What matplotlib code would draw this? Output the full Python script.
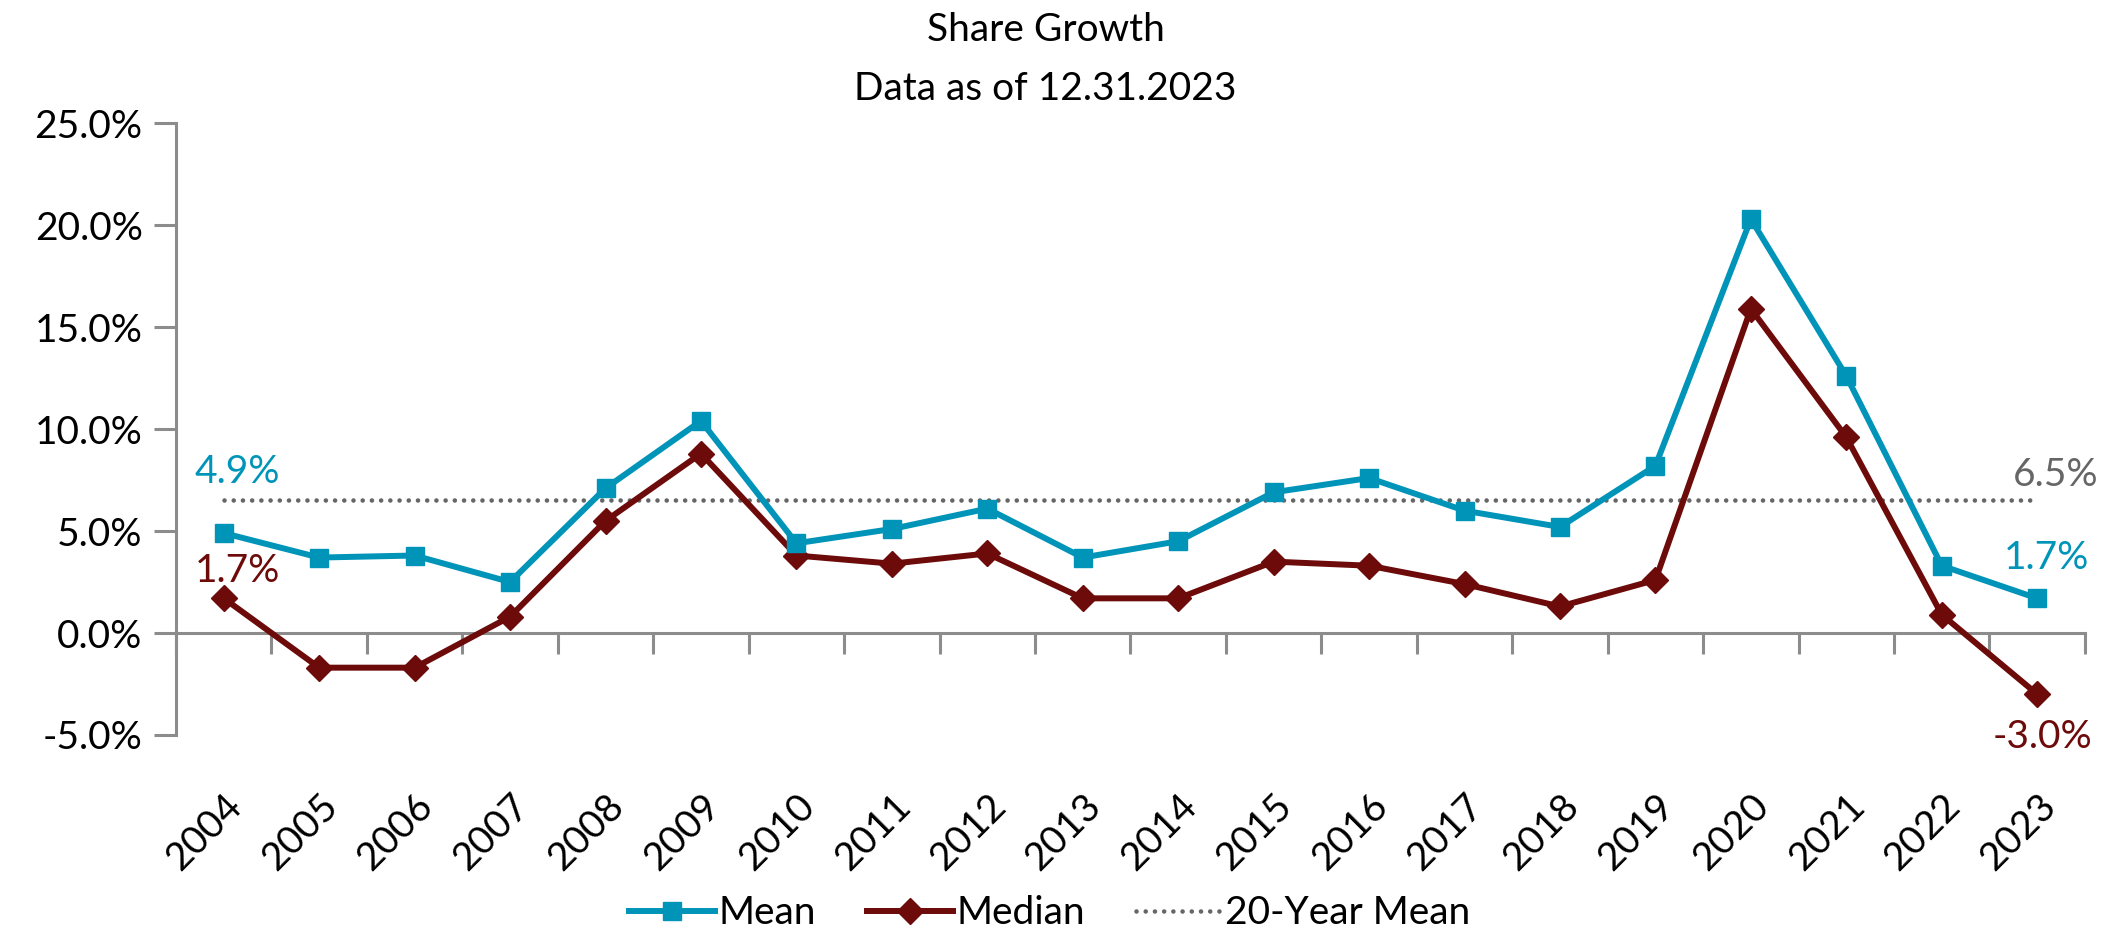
import matplotlib.pyplot as plt
import numpy as np

years = [str(y) for y in range(2004, 2024)]
mean = [4.9, 3.7, 3.8, 2.5, 7.1, 10.4, 4.4, 5.1, 6.1, 3.7,
        4.5, 6.9, 7.6, 6.0, 5.2, 8.2, 20.3, 12.6, 3.3, 1.7]
median = [1.7, -1.7, -1.7, 0.8, 5.5, 8.8, 3.8, 3.4, 3.9, 1.7,
          1.7, 3.5, 3.3, 2.4, 1.3, 2.6, 15.9, 9.6, 0.9, -3.0]
avg_20y = 6.5

teal = '#0094B9'
maroon = '#6D0A0A'
grey = '#666666'
axis_grey = '#8C8C8C'

plt.rcParams['font.family'] = ['Lato', 'DejaVu Sans']
plt.rcParams['font.weight'] = 'normal'
fs = 28

fig = plt.figure(figsize=(21.21, 9.34), dpi=100)
ax = fig.add_axes([0.083, 0.2131, 0.9, 0.655])

x = np.arange(len(years))
ax.plot(x, [avg_20y] * len(x), color=grey, lw=3.3, linestyle=(0, (0.01, 2.0)),
        dash_capstyle='round', label='20-Year Mean', zorder=2)
ax.plot(x, median, color=maroon, lw=4.3, marker='D', ms=13, label='Median', zorder=3)
ax.plot(x, mean, color=teal, lw=4.3, marker='s', ms=13, label='Mean', zorder=4)

ymin, ymax = -5, 25
ax.set_xlim(-0.5, len(x) - 0.5)
ax.set_ylim(ymin, ymax)
ax.set_yticks(np.arange(ymin, ymax + 1, 5))
ax.set_yticklabels(['%.1f%%' % v for v in np.arange(ymin, ymax + 1, 5)])
ax.tick_params(axis='y', length=16, width=2.2, color=axis_grey, labelsize=fs, pad=8)

# year labels hang below the plot area
ax.set_xticks(x)
ax.set_xticklabels(years, rotation=45, ha='right', va='top', rotation_mode='anchor')
ax.tick_params(axis='x', length=0, pad=38, labelsize=fs)

# zero line with tick marks at the category edges
zero_ax = ax.secondary_xaxis((0 - ymin) / (ymax - ymin))
zero_ax.set_xticks(np.arange(-0.5, len(x), 1.0))
zero_ax.set_xticklabels([])
zero_ax.tick_params(axis='x', length=15, width=2.2, color=axis_grey, direction='out')
zero_ax.spines['bottom'].set_color(axis_grey)
zero_ax.spines['bottom'].set_linewidth(2.2)

ax.spines['top'].set_visible(False)
ax.spines['right'].set_visible(False)
ax.spines['bottom'].set_visible(False)
ax.spines['left'].set_color(axis_grey)
ax.spines['left'].set_linewidth(2.2)

# value labels
ax.annotate('%.1f%%' % mean[0], (x[0], mean[0]), xytext=(10, 44), textcoords='offset points',
            ha='center', va='center', color=teal, fontsize=fs)
ax.annotate('%.1f%%' % median[0], (x[0], median[0]), xytext=(10, 20), textcoords='offset points',
            ha='center', va='center', color=maroon, fontsize=fs)
ax.annotate('%.1f%%' % mean[-1], (x[-1], mean[-1]), xytext=(7, 29), textcoords='offset points',
            ha='center', va='center', color=teal, fontsize=fs)
ax.annotate('%.1f%%' % median[-1], (x[-1], median[-1]), xytext=(4, -31), textcoords='offset points',
            ha='center', va='center', color=maroon, fontsize=fs)
ax.annotate('%.1f%%' % avg_20y, (x[-1], avg_20y), xytext=(13, 18), textcoords='offset points',
            ha='center', va='center', color=grey, fontsize=fs)

fig.text(0.493, 0.968, 'Share Growth', ha='center', va='center', fontsize=fs)
fig.text(0.493, 0.905, 'Data as of 12.31.2023', ha='center', va='center', fontsize=fs)

handles, labels = ax.get_legend_handles_labels()
order = [2, 1, 0]
fig.legend([handles[i] for i in order], [labels[i] for i in order],
           loc='center', bbox_to_anchor=(0.495, 0.022), ncol=3, frameon=False,
           fontsize=fs, handlelength=2.2, handletextpad=0.1, columnspacing=1.3)

fig.savefig('out.png', dpi=100)
